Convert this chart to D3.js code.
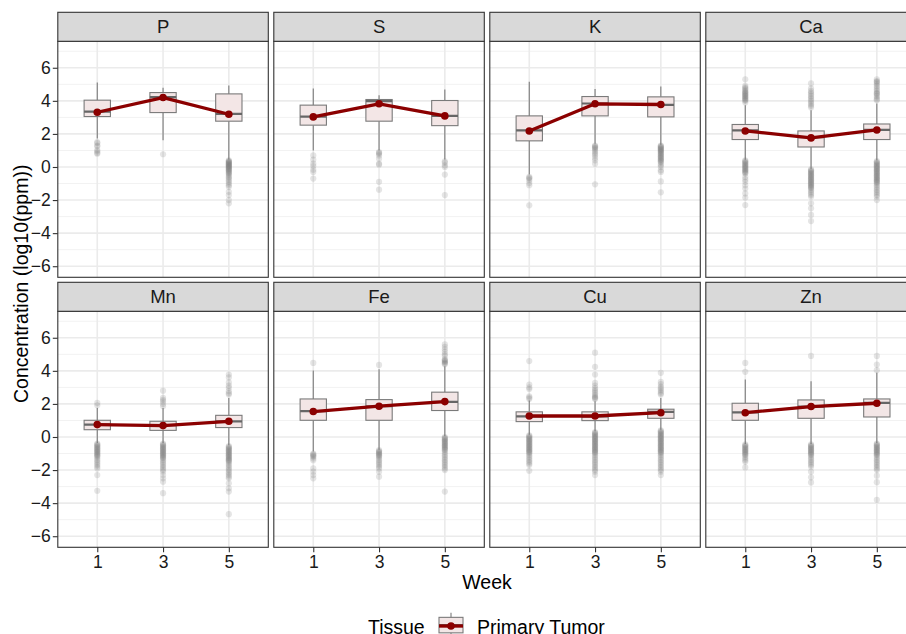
<!DOCTYPE html>
<html><head><meta charset="utf-8">
<script src="https://cdn.jsdelivr.net/npm/d3@7"></script>
<style>html,body{margin:0;padding:0;background:#fff;}svg{display:block;font-family:"Liberation Sans",Arial,Helvetica,sans-serif;}</style>
</head><body>
<script>
const elements = ["P","S","K","Ca","Mn","Fe","Cu","Zn"];
const weeks = ["1","3","5"];
const yTicks = [-6,-4,-2,0,2,4,6];
const yMinor = [-5,-3,-1,1,3,5,7];
// per element, per week
const whiskerLow = [[1.72,1.62,0.45],[1.0,1.0,0.45],[-0.45,1.4,1.35],[0.44,-0.1,0.4],[-0.36,-0.36,-0.5],[-0.87,-0.77,0.04],[0.14,0.34,0.44],[-0.42,-0.42,-0.36]];
const q1 = [[3.05,3.29,2.77],[2.53,2.77,2.5],[1.58,3.09,3.03],[1.66,1.21,1.66],[0.44,0.4,0.57],[1.01,1.01,1.6],[0.93,0.99,1.13],[1.01,1.13,1.21]];
const median = [[3.35,4.22,3.21],[3.05,3.98,3.09],[2.22,3.84,3.76],[2.22,1.8,2.24],[0.75,0.71,0.95],[1.56,1.86,2.12],[1.25,1.25,1.52],[1.49,1.84,2.06]];
const q3 = [[4.04,4.5,4.42],[3.74,4.08,4.02],[3.09,4.26,4.24],[2.57,2.18,2.6],[1.01,0.95,1.31],[2.3,2.26,2.71],[1.52,1.52,1.68],[2.04,2.24,2.3]];
const whiskerHigh = [[5.11,4.79,4.93],[4.75,4.34,4.69],[5.15,4.71,4.87],[3.74,3.43,3.84],[1.76,1.76,2.36],[4.02,4.1,4.28],[2.2,2.16,2.36],[3.47,3.37,3.88]];
const meanVal = [[3.31,4.2,3.19],[3.03,3.82,3.09],[2.18,3.82,3.78],[2.18,1.76,2.24],[0.75,0.69,0.95],[1.54,1.86,2.14],[1.27,1.27,1.47],[1.47,1.84,2.04]];
const outliers = [
 [[1.5,1.45,1.3,1.25,1.02,0.95,0.85,0.8],[0.77],
  [0.4,0.36,0.32,0.3,0.26,0.22,0.2,0.16,0.12,0.1,0.06,0.02,0,-0.04,-0.08,-0.12,-0.16,-0.2,-0.25,-0.3,-0.35,-0.4,-0.46,-0.55,-0.62,-0.7,-0.8,-0.9,-1.0,-1.1,-1.2,-1.5,-1.7,-2.0,-2.2]],
 [[0.7,0.44,0.2,0.06,-0.16,-0.3,-0.7],[0.9,0.85,0.8,0.7,0.5,0.2,0.14,-0.9,-1.37],[0.34,0.26,0.1,0.0,-0.46,-1.7]],
 [[-0.6,-0.65,-0.7,-0.8,-0.97,-1.1,-2.32],[1.3,1.25,1.2,1.15,1.1,1.0,0.9,0.8,0.7,0.55,0.4,0.2,-1.05],
  [1.3,1.26,1.22,1.18,1.14,1.1,1.06,1.02,0.98,0.94,0.9,0.85,0.8,0.75,0.7,0.65,0.6,0.55,0.5,0.45,0.4,0.35,0.3,0.2,0.1,0.0,-0.2,-0.3,-0.87,-1.53]],
 [[5.3,4.9,4.82,4.75,4.68,4.6,4.55,4.5,4.45,4.4,4.35,4.3,4.25,4.2,4.15,4.1,4.05,4.0,3.9,0.4,0.35,0.3,0.25,0.2,0.15,0.1,0.05,0,-0.05,-0.1,-0.15,-0.2,-0.25,-0.3,-0.35,-0.4,-0.6,-0.75,-0.9,-1.1,-1.3,-1.6,-1.85,-2.3],
  [5.05,4.75,4.6,4.5,4.4,4.3,4.2,4.1,4.0,3.9,3.8,3.7,3.6,-0.15,-0.2,-0.25,-0.3,-0.35,-0.4,-0.45,-0.5,-0.55,-0.6,-0.65,-0.7,-0.75,-0.8,-0.85,-0.9,-0.95,-1.0,-1.05,-1.1,-1.15,-1.2,-1.25,-1.3,-1.4,-1.5,-1.6,-1.7,-1.8,-2.2,-2.5,-2.9,-3.27],
  [5.3,5.2,5.15,5.1,5.0,4.9,4.8,4.7,4.6,4.5,4.45,4.4,4.3,4.2,4.1,4.04,0.35,0.3,0.25,0.2,0.15,0.1,0.05,0,-0.05,-0.1,-0.15,-0.2,-0.25,-0.3,-0.35,-0.4,-0.45,-0.5,-0.55,-0.6,-0.65,-0.7,-0.75,-0.8,-0.85,-0.9,-0.95,-1.0,-1.1,-1.2,-1.3,-1.4,-1.5,-1.6,-1.7,-1.8,-2.0]],
 [[2.06,1.92,-0.4,-0.45,-0.5,-0.55,-0.6,-0.65,-0.7,-0.75,-0.8,-0.85,-0.9,-0.95,-1.0,-1.05,-1.1,-1.15,-1.2,-1.3,-1.4,-1.5,-1.6,-1.7,-1.8,-1.9,-2.3,-3.25],
  [2.8,2.36,2.25,2.15,2.0,1.86,-0.4,-0.45,-0.5,-0.55,-0.6,-0.65,-0.7,-0.75,-0.8,-0.85,-0.9,-0.95,-1.0,-1.05,-1.1,-1.15,-1.2,-1.25,-1.3,-1.4,-1.5,-1.6,-1.7,-1.8,-1.9,-2.0,-2.1,-2.3,-2.5,-2.7,-3.4],
  [3.78,3.6,3.3,3.1,2.97,2.77,2.65,2.57,-0.55,-0.6,-0.65,-0.7,-0.75,-0.8,-0.85,-0.9,-0.95,-1.0,-1.05,-1.1,-1.15,-1.2,-1.25,-1.3,-1.35,-1.4,-1.45,-1.5,-1.6,-1.7,-1.8,-1.9,-2.0,-2.1,-2.2,-2.3,-2.4,-2.5,-2.8,-3.1,-3.3,-4.67]],
 [[4.48,-1.0,-1.05,-1.1,-1.15,-1.2,-1.3,-1.4,-1.9,-2.1,-2.3,-2.5],
  [4.36,-0.8,-0.85,-0.9,-0.95,-1.0,-1.05,-1.1,-1.15,-1.2,-1.3,-1.4,-1.5,-1.6,-1.7,-1.8,-1.9,-2.1,-2.4],
  [5.6,5.45,5.3,5.15,5.0,4.9,4.7,4.65,4.6,4.55,4.5,4.45,4.4,0.0,-0.05,-0.1,-0.15,-0.2,-0.25,-0.3,-0.35,-0.4,-0.45,-0.5,-0.55,-0.6,-0.65,-0.7,-0.75,-0.8,-0.9,-1.0,-1.1,-1.2,-1.3,-1.4,-1.5,-1.6,-1.7,-1.8,-1.9,-2.0,-3.3]],
 [[4.59,3.17,3.0,2.9,2.46,2.38,2.3,0.1,0.05,0,-0.05,-0.1,-0.15,-0.2,-0.25,-0.3,-0.35,-0.4,-0.45,-0.5,-0.55,-0.6,-0.65,-0.7,-0.75,-0.8,-0.85,-0.9,-0.95,-1.0,-1.1,-1.2,-1.3,-1.4,-1.5,-1.6,-1.7,-2.04],
  [5.1,4.24,3.78,3.27,3.1,2.95,2.85,2.75,2.65,2.55,2.45,2.4,2.35,2.3,0.3,0.25,0.2,0.15,0.1,0.05,0,-0.05,-0.1,-0.15,-0.2,-0.25,-0.3,-0.35,-0.4,-0.45,-0.5,-0.55,-0.6,-0.65,-0.7,-0.75,-0.8,-0.85,-0.9,-0.95,-1.0,-1.1,-1.2,-1.3,-1.4,-1.5,-1.6,-1.7,-1.8,-1.9,-2.0,-2.1,-2.3],
  [3.88,3.33,3.2,3.05,2.95,2.85,2.75,2.65,2.57,0.4,0.35,0.3,0.25,0.2,0.15,0.1,0.05,0,-0.05,-0.1,-0.15,-0.2,-0.25,-0.3,-0.35,-0.4,-0.45,-0.5,-0.55,-0.6,-0.65,-0.7,-0.75,-0.8,-0.85,-0.9,-0.95,-1.0,-1.1,-1.2,-1.3,-1.4,-1.5,-1.6,-1.7,-1.8,-1.9,-2.0,-2.1,-2.3]],
 [[4.48,3.94,-0.45,-0.5,-0.55,-0.6,-0.65,-0.7,-0.75,-0.8,-0.85,-0.9,-0.95,-1.0,-1.05,-1.1,-1.2,-1.3,-1.4,-1.5,-1.84],
  [4.9,-0.45,-0.5,-0.55,-0.6,-0.65,-0.7,-0.75,-0.8,-0.85,-0.9,-0.95,-1.0,-1.05,-1.1,-1.2,-1.3,-1.4,-1.5,-1.6,-1.7,-1.8,-2.1,-2.44,-2.75],
  [4.9,4.38,4.04,-0.4,-0.45,-0.5,-0.55,-0.6,-0.65,-0.7,-0.75,-0.8,-0.85,-0.9,-0.95,-1.0,-1.05,-1.1,-1.2,-1.3,-1.4,-1.5,-1.6,-1.7,-1.8,-1.9,-2.0,-2.34,-2.73,-3.8]]
];
const legendTitle = "Tissue";
const legendLabel = "Primary Tumor";
const xTitle = "Week";
const yTitle = "Concentration (log10(ppm))";

const W = 906, H = 634;
const svg = d3.select("body").append("svg").attr("width", W).attr("height", H);
const left0 = 57.8, panelW = 210.5, gapX = 5.5;
const stripTops = [12.3, 282.3], stripH = 29, plotH = 236;
const red = "#8b0000", boxFill = "#f3e6e6", boxStroke = "#7a7a7a", outCol = "#7f7f7f";

elements.forEach((el, ei) => {
  const row = Math.floor(ei / 4), col = ei % 4;
  const px = left0 + col * (panelW + gapX);
  const st = stripTops[row];
  const pt = st + stripH, pb = pt + plotH;
  const x = d3.scaleLinear().domain([0.4, 3.6]).range([px, px + panelW]);
  const xw = w => x(weeks.indexOf(w) + 1);
  const y = d3.scaleLinear().domain([-6.67, 7.6]).range([pb, pt]);
  const g = svg.append("g");
  const clipId = "clip" + ei;
  g.append("clipPath").attr("id", clipId).append("rect").attr("x", px).attr("y", pt).attr("width", panelW).attr("height", plotH);
  const inner = g.append("g").attr("clip-path", `url(#${clipId})`);
  inner.append("rect").attr("x", px).attr("y", pt).attr("width", panelW).attr("height", plotH).attr("fill", "#fff");
  inner.selectAll(".minor").data(yMinor).join("line")
    .attr("x1", px).attr("x2", px + panelW).attr("y1", d => y(d)).attr("y2", d => y(d))
    .attr("stroke", "#f2f2f2").attr("stroke-width", 1);
  inner.selectAll(".major").data(yTicks).join("line")
    .attr("x1", px).attr("x2", px + panelW).attr("y1", d => y(d)).attr("y2", d => y(d))
    .attr("stroke", "#ebebeb").attr("stroke-width", 1.6);
  inner.selectAll(".vmajor").data(weeks).join("line")
    .attr("x1", d => xw(d)).attr("x2", d => xw(d)).attr("y1", pt).attr("y2", pb)
    .attr("stroke", "#ebebeb").attr("stroke-width", 1.6);
  // outliers
  weeks.forEach((w, wi) => {
    inner.append("g").selectAll("circle").data(outliers[ei][wi]).join("circle")
      .attr("cx", xw(w)).attr("cy", d => y(d)).attr("r", 3.1)
      .attr("fill", outCol).attr("fill-opacity", 0.2);
  });
  const bw = (x(1.2) - x(1)) ;
  weeks.forEach((w, wi) => {
    const cx = xw(w);
    inner.append("line").attr("x1", cx).attr("x2", cx).attr("y1", y(whiskerHigh[ei][wi])).attr("y2", y(q3[ei][wi]))
      .attr("stroke", boxStroke).attr("stroke-width", 1.1);
    inner.append("line").attr("x1", cx).attr("x2", cx).attr("y1", y(q1[ei][wi])).attr("y2", y(whiskerLow[ei][wi]))
      .attr("stroke", boxStroke).attr("stroke-width", 1.1);
    inner.append("rect").attr("x", cx - bw).attr("width", 2 * bw)
      .attr("y", y(q3[ei][wi])).attr("height", y(q1[ei][wi]) - y(q3[ei][wi]))
      .attr("fill", boxFill).attr("stroke", boxStroke).attr("stroke-width", 1.1);
    inner.append("line").attr("x1", cx - bw).attr("x2", cx + bw).attr("y1", y(median[ei][wi])).attr("y2", y(median[ei][wi]))
      .attr("stroke", "#666").attr("stroke-width", 2.2);
  });
  const line = d3.line().x((d, i) => xw(weeks[i])).y(d => y(d));
  inner.append("path").attr("d", line(meanVal[ei])).attr("fill", "none").attr("stroke", red).attr("stroke-width", 3.3).attr("stroke-linejoin", "round");
  inner.selectAll(".mpt").data(meanVal[ei]).join("circle")
    .attr("cx", (d, i) => xw(weeks[i])).attr("cy", d => y(d)).attr("r", 3.8).attr("fill", red);
  // panel border
  g.append("rect").attr("x", px).attr("y", pt).attr("width", panelW).attr("height", plotH)
    .attr("fill", "none").attr("stroke", "#333").attr("stroke-width", 1.1);
  // strip
  g.append("rect").attr("x", px).attr("y", st).attr("width", panelW).attr("height", stripH)
    .attr("fill", "#d9d9d9").attr("stroke", "#333").attr("stroke-width", 1.1);
  g.append("text").attr("x", px + panelW / 2).attr("y", st + stripH / 2 + 6.6).attr("text-anchor", "middle")
    .attr("font-size", 18.5).attr("fill", "#1a1a1a").text(el);
  // y axis
  if (col === 0) {
    const ya = g.append("g").attr("transform", `translate(${px},0)`)
      .call(d3.axisLeft(y).tickValues(yTicks).tickSize(5).tickPadding(2).tickFormat(d3.format("d")));
    ya.select(".domain").remove();
    ya.selectAll(".tick line").attr("stroke", "#333").attr("stroke-width", 1.1);
    ya.selectAll(".tick text").attr("font-size", 17.5).attr("fill", "#1a1a1a").attr("font-family", null);
  }
  if (row === 1) {
    const xa = g.append("g").attr("transform", `translate(0,${pb})`)
      .call(d3.axisBottom(d3.scalePoint().domain(weeks).range([x(1), x(3)])).tickSize(5).tickPadding(3));
    xa.select(".domain").remove();
    xa.selectAll(".tick line").attr("stroke", "#333").attr("stroke-width", 1.1);
    xa.selectAll(".tick text").attr("font-size", 17.5).attr("fill", "#1a1a1a").attr("font-family", null);
  }
});

const totalRight = left0 + 4 * panelW + 3 * gapX;
const cxAll = (left0 + totalRight) / 2;
svg.append("text").attr("x", cxAll).attr("y", 588.5).attr("text-anchor", "middle").attr("font-size", 19.5).attr("fill", "#000").text(xTitle);
svg.append("text").attr("transform", `translate(28,${(stripTops[0] + stripTops[1] + stripH + plotH) / 2 + 4}) rotate(-90)`)
  .attr("text-anchor", "middle").attr("font-size", 19.5).attr("fill", "#000").text(yTitle);

// legend
const lg = svg.append("g");
lg.append("text").attr("x", 368).attr("y", 634).attr("font-size", 19.5).attr("fill", "#000").text(legendTitle);
const kx = 435, ky = 609.6, kw = 32, kh = 31;
lg.append("line").attr("x1", kx + kw / 2).attr("x2", kx + kw / 2).attr("y1", ky + kh * 0.1).attr("y2", ky + kh * 0.9).attr("stroke", boxStroke).attr("stroke-width", 1.1);
lg.append("rect").attr("x", kx + kw * 0.125).attr("y", ky + kh * 0.25).attr("width", kw * 0.75).attr("height", kh * 0.5)
  .attr("fill", boxFill).attr("stroke", boxStroke).attr("stroke-width", 1.1);
lg.append("line").attr("x1", kx + kw * 0.125).attr("x2", kx + kw * 0.875).attr("y1", ky + kh * 0.5).attr("y2", ky + kh * 0.5).attr("stroke", "#666").attr("stroke-width", 2.2);
lg.append("line").attr("x1", kx + kw * 0.125).attr("x2", kx + kw * 0.875).attr("y1", ky + kh * 0.53).attr("y2", ky + kh * 0.53).attr("stroke", red).attr("stroke-width", 3.3);
lg.append("circle").attr("cx", kx + kw / 2).attr("cy", ky + kh * 0.53).attr("r", 3.8).attr("fill", red);
lg.append("text").attr("x", 477).attr("y", 634).attr("font-size", 19.5).attr("fill", "#000").text(legendLabel);
</script>
</body></html>
